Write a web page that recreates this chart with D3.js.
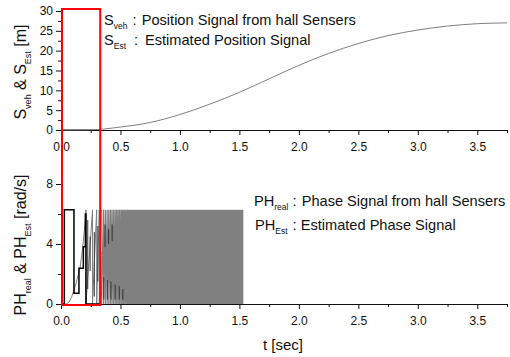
<!DOCTYPE html>
<html>
<head>
<meta charset="utf-8">
<script src="https://cdn.jsdelivr.net/npm/d3@7"></script>
<style>
  body { margin: 0; background: #fff; }
  svg { display: block; font-family: "Liberation Sans", Arial, sans-serif; }
</style>
</head>
<body>
<svg id="chart" width="510" height="357"></svg>
<script>
// Upper panel: vehicle position from hall sensors (grey)
const posTime  = [0, 0.25, 0.5, 0.75, 1.0, 1.25, 1.5, 1.75, 2.0, 2.25, 2.5, 2.75, 3.0, 3.25, 3.5, 3.75];
const posValue = [0, 0.05, 0.75, 1.9, 3.9, 6.5, 9.5, 12.9, 16.3, 19.3, 21.8, 23.8, 25.2, 26.2, 26.8, 27.0];
// estimated position (black), flat while standing
const estPosTime  = [0, 0.33];
const estPosValue = [0, 0];

// Lower panel: first phase ramp (grey)
const phaseTime  = [0, 0.01, 0.01, 0.045, 0.07, 0.09, 0.12, 0.14, 0.16, 0.18, 0.2, 0.21];
const phaseValue = [6.28, 6.28, 0, 0, 0.15, 0.49, 1.2, 1.8, 2.4, 3.6, 5.2, 6.28];
// instants where the phase wraps back to 0
const toothResets = [0.21, 0.265, 0.3, 0.322, 0.34, 0.357, 0.373, 0.388, 0.402, 0.416, 0.429,
                     0.442, 0.455, 0.467, 0.479, 0.491, 0.503, 0.514, 0.525, 0.536, 0.547, 0.558];
// teeth are too dense to separate here
const denseSpan = [0.558, 1.533];
const phaseMax = 6.28;

// estimated phase (black)
const estPhaseTime  = [0, 0.028, 0.028, 0.109, 0.109, 0.151, 0.151, 0.188, 0.188, 0.205, 0.205, 0.21, 0.21, 0.33];
const estPhaseValue = [0, 0, 6.28, 6.28, 0.72, 0.72, 2.38, 2.38, 3.82, 3.82, 6.0, 6.0, 0, 0];
// short black pieces among later teeth: [t, low, high]
const estPhaseMarks = [
  [0.225, 1.0, 5.6], [0.245, 2.2, 4.5], [0.28, 0.5, 4.8], [0.31, 1.5, 5.2],
  [0.335, 0.6, 3.5], [0.36, 0.3, 1.8], [0.37, 3.8, 5.3], [0.39, 0.3, 1.6],
  [0.40, 4.0, 5.0], [0.42, 0.3, 1.5], [0.43, 4.2, 5.3], [0.455, 0.3, 1.3],
  [0.49, 0.3, 1.2], [0.52, 0.3, 1.0]
];

// highlighted start-up window
const highlight = [0, 0.33];

const xMajor = [0, 0.5, 1.0, 1.5, 2.0, 2.5, 3.0, 3.5];
const xMinor = [0.25, 0.75, 1.25, 1.75, 2.25, 2.75, 3.25, 3.75];
const posMajor = [0, 5, 10, 15, 20, 25, 30];
const posMinor = [2.5, 7.5, 12.5, 17.5, 22.5, 27.5];
const phMajor = [0, 4, 8];
const phMinor = [2, 6];

const GREY = '#808080';

const svg = d3.select('#chart');

const x = d3.scaleLinear().domain([0, 3.75]).range([61, 507]);
const yPos = d3.scaleLinear().domain([0, 30]).range([130, 11]);
const yPh = d3.scaleLinear().domain([0, 9.3]).range([304, 164.5]);

function drawAxes(yScale, major, minor) {
  const bottomY = yScale(0);
  // minor ticks first, then labelled majors
  svg.append('g')
    .attr('transform', `translate(0,${bottomY})`)
    .call(d3.axisBottom(x).tickValues(xMinor).tickSize(3).tickFormat(''))
    .call(g => g.select('.domain').remove());
  svg.append('g')
    .attr('transform', `translate(0,${bottomY})`)
    .call(d3.axisBottom(x).tickValues(xMajor).tickSizeInner(5).tickSizeOuter(0)
      .tickPadding(7).tickFormat(d3.format('.1f')))
    .style('font-size', '12px');

  svg.append('g')
    .attr('transform', `translate(${x(0)},0)`)
    .call(d3.axisLeft(yScale).tickValues(minor).tickSize(3).tickFormat(''))
    .call(g => g.select('.domain').remove());
  svg.append('g')
    .attr('transform', `translate(${x(0)},0)`)
    .call(d3.axisLeft(yScale).tickValues(major).tickSizeInner(5).tickSizeOuter(0).tickPadding(3))
    .style('font-size', '12px');
}

drawAxes(yPos, posMajor, posMinor);
drawAxes(yPh, phMajor, phMinor);

svg.selectAll('.domain, .tick line').attr('stroke', '#111');
svg.selectAll('.tick text').attr('fill', '#111').style('font-family', '"Liberation Sans", Arial, sans-serif');

// upper panel curves
const posLine = d3.line().x(d => x(d[0])).y(d => yPos(d[1]));
svg.append('path')
  .datum(d3.zip(estPosTime, estPosValue))
  .attr('d', posLine)
  .attr('fill', 'none').attr('stroke', '#000').attr('stroke-width', 1.2);
svg.append('path')
  .datum(d3.zip(posTime, posValue))
  .attr('d', posLine.curve(d3.curveMonotoneX))
  .attr('fill', 'none').attr('stroke', GREY).attr('stroke-width', 1);

// lower panel: real phase
const phLine = d3.line().x(d => x(d[0])).y(d => yPh(d[1]));
const firstTeeth = d3.zip(phaseTime, phaseValue);
const laterTeeth = [];
for (let i = 0; i < toothResets.length - 1; i++) {
  const seg = toothResets[i] < 0.33 ? firstTeeth : laterTeeth;
  seg.push([toothResets[i], 0], [toothResets[i + 1], phaseMax]);
}
laterTeeth.push([toothResets[toothResets.length - 1], 0]);
svg.append('rect')
  .attr('x', x(denseSpan[0]))
  .attr('y', yPh(phaseMax))
  .attr('width', x(denseSpan[1]) - x(denseSpan[0]))
  .attr('height', yPh(0) - yPh(phaseMax))
  .attr('fill', GREY);
svg.append('path')
  .datum(firstTeeth)
  .attr('d', phLine)
  .attr('fill', 'none').attr('stroke', GREY).attr('stroke-width', 1);
svg.append('path')
  .datum(laterTeeth)
  .attr('d', phLine)
  .attr('fill', 'none').attr('stroke', GREY).attr('stroke-width', 1.25);

// estimated phase
svg.append('path')
  .datum(d3.zip(estPhaseTime, estPhaseValue))
  .attr('d', phLine)
  .attr('fill', 'none').attr('stroke', '#000').attr('stroke-width', 1.5);
svg.append('g').selectAll('line')
  .data(estPhaseMarks)
  .join('line')
  .attr('x1', d => x(d[0])).attr('x2', d => x(d[0]))
  .attr('y1', d => yPh(d[1])).attr('y2', d => yPh(d[2]))
  .attr('stroke', '#333').attr('stroke-width', 1);

// red highlight box
svg.append('rect')
  .attr('x', x(highlight[0]) + 1)
  .attr('y', yPos(30.5))
  .attr('width', x(highlight[1]) - x(highlight[0]) - 1)
  .attr('height', yPh(-0.07) - yPos(30.5))
  .attr('fill', 'none')
  .attr('stroke', '#ff0000')
  .attr('stroke-width', 2);

// legends
function legendLine(px, baseline, main, sub, colonX, textX, label) {
  const t = svg.append('text').attr('y', baseline).style('font-size', '14.6px').attr('fill', '#111');
  t.append('tspan').attr('x', px).text(main);
  t.append('tspan').attr('dy', 3.5).style('font-size', '8.5px').text(sub);
  t.append('tspan').attr('x', colonX).attr('y', baseline).text(':');
  t.append('tspan').attr('x', textX).text(label);
}
legendLine(104, 25, 'S', 'veh', 132.5, 141.7, 'Position Signal from hall Sensers');
legendLine(104, 45, 'S', 'Est', 134, 145, 'Estimated Position Signal');
legendLine(254, 206, 'PH', 'real', 292.5, 301.7, 'Phase Signal from hall Sensers');
legendLine(255, 230, 'PH', 'Est', 292.5, 300.7, 'Estimated Phase Signal');

// axis titles
function yTitle(cx, cy, parts) {
  const t = svg.append('text')
    .attr('transform', `translate(${cx},${cy}) rotate(-90)`)
    .attr('text-anchor', 'middle')
    .style('font-size', '16px').attr('fill', '#111');
  parts.forEach(p => {
    t.append('tspan')
      .attr('dy', p.sub ? 5 : (p.after ? -5 : 0))
      .style('font-size', p.sub ? '9px' : null)
      .text(p.text);
  });
}
yTitle(26, 72, [{text: 'S'}, {text: 'veh', sub: true}, {text: ' & S', after: true},
                {text: 'Est', sub: true}, {text: ' [m]', after: true}]);
yTitle(26, 245, [{text: 'PH'}, {text: 'real', sub: true}, {text: ' & PH', after: true},
                 {text: 'Est', sub: true}, {text: ' [rad/s]', after: true}]);

svg.append('text')
  .attr('x', 283).attr('y', 350)
  .attr('text-anchor', 'middle')
  .style('font-size', '15px').attr('fill', '#111')
  .text('t [sec]');
</script>
</body>
</html>
